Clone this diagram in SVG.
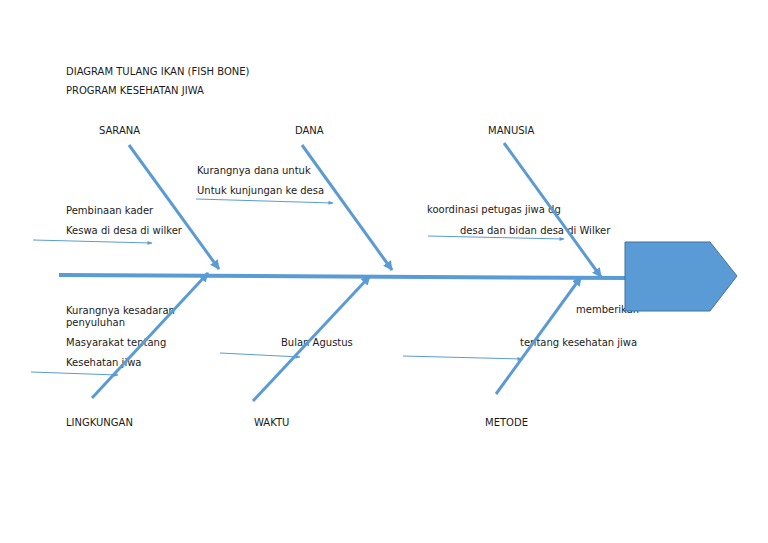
<svg xmlns="http://www.w3.org/2000/svg" width="768" height="543" viewBox="0 0 768 543">
<defs>
<style>
text{font-family:"DejaVu Sans",sans-serif;font-size:10px;fill:#1a1a1a}
.bone{stroke:#5B9BD5;stroke-width:3;fill:none}
.thin{stroke:#5B9BD5;stroke-width:1;fill:none}
.spine{stroke:#5B9BD5;stroke-width:4;fill:none}
</style>
<marker id="ah" viewBox="0 0 10 10" refX="9" refY="5" markerWidth="3.2" markerHeight="3.2" orient="auto" markerUnits="strokeWidth"><path d="M0,0 L10,5 L0,10 z" fill="#5B9BD5"/></marker>
<marker id="ahs" viewBox="0 0 10 10" refX="9" refY="5" markerWidth="7" markerHeight="5" orient="auto" markerUnits="strokeWidth"><path d="M0,1 L10,5 L0,9 z" fill="#5B9BD5"/></marker>
</defs>
<rect width="768" height="543" fill="#ffffff"/>
<g id="title">
<text x="66" y="75">DIAGRAM TULANG IKAN (FISH BONE)</text>
<text x="66" y="94">PROGRAM KESEHATAN JIWA</text>
</g>
<g id="labels">
<text x="99" y="134">SARANA</text>
<text x="295" y="134">DANA</text>
<text x="488" y="134">MANUSIA</text>
<text x="66" y="426">LINGKUNGAN</text>
<text x="254" y="426">WAKTU</text>
<text x="485" y="426">METODE</text>
</g>
<g id="causes">
<text x="197" y="174">Kurangnya dana untuk</text>
<text x="197" y="194">Untuk kunjungan ke desa</text>
<text x="66" y="214">Pembinaan kader</text>
<text x="66" y="234">Keswa di desa di wilker</text>
<text x="427" y="213">koordinasi petugas jiwa dg</text>
<text x="460" y="234">desa dan bidan desa di Wilker</text>
<text x="576" y="313">memberikan</text>
<text x="66" y="314">Kurangnya kesadaran</text>
<text x="66" y="326">penyuluhan</text>
<text x="66" y="346">Masyarakat tentang</text>
<text x="66" y="366">Kesehatan jiwa</text>
<text x="281" y="346">Bulan Agustus</text>
<text x="520" y="346">tentang kesehatan jiwa</text>
</g>
<g id="connectors">
<line class="spine" x1="59" y1="275" x2="626" y2="278"/>
<line class="bone" x1="129" y1="145" x2="219" y2="269" marker-end="url(#ah)"/>
<line class="bone" x1="302" y1="145" x2="392" y2="270" marker-end="url(#ah)"/>
<line class="bone" x1="504" y1="143" x2="601" y2="277" marker-end="url(#ah)"/>
<line class="bone" x1="92" y1="398" x2="208" y2="273" marker-end="url(#ah)"/>
<line class="bone" x1="253" y1="401" x2="370" y2="276" marker-end="url(#ah)"/>
<line class="bone" x1="496" y1="394" x2="581" y2="277" marker-end="url(#ah)"/>
<line class="thin" x1="196" y1="199" x2="333" y2="203" marker-end="url(#ahs)"/>
<line class="thin" x1="33" y1="240" x2="152" y2="243" marker-end="url(#ahs)"/>
<line class="thin" x1="428" y1="236" x2="564" y2="239" marker-end="url(#ahs)"/>
<line class="thin" x1="31" y1="372" x2="118" y2="375" marker-end="url(#ahs)"/>
<line class="thin" x1="220" y1="353" x2="300" y2="357" marker-end="url(#ahs)"/>
<line class="thin" x1="403" y1="356" x2="522" y2="359" marker-end="url(#ahs)"/>
</g>
<g id="head">
<polygon points="625,242 710,242 737,276 710,311 625,311" fill="#5B9BD5" stroke="#41719C" stroke-width="1"/>
</g>
</svg>
